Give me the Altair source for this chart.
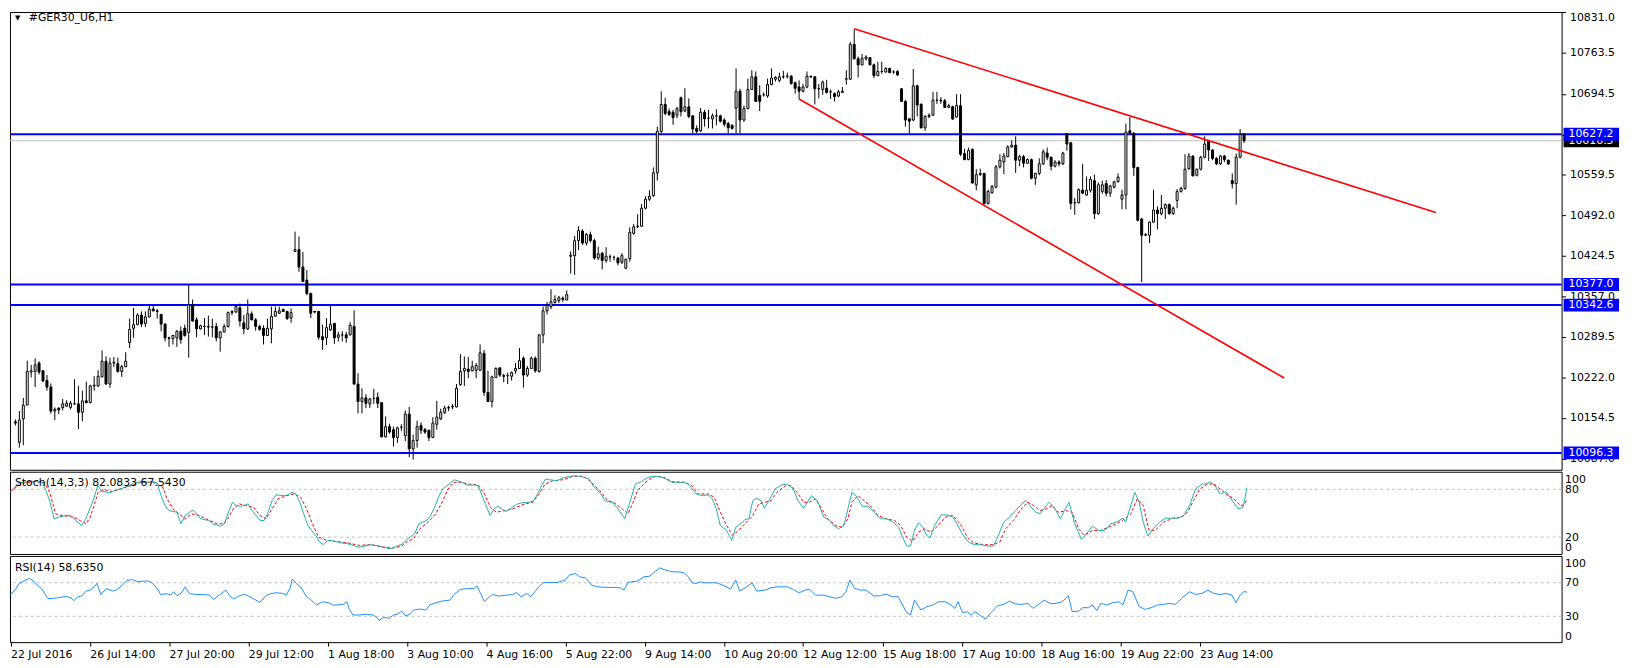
import json
import altair as alt
import pandas as pd

# ---------------- data ----------------
symbol_title = "#GER30_U6,H1"
stoch_title = "Stoch(14,3,3) 82.0833 67.5430"
rsi_title = "RSI(14) 58.6350"

time_labels = ["22 Jul 2016", "26 Jul 14:00", "27 Jul 20:00", "29 Jul 12:00",
               "1 Aug 18:00", "3 Aug 10:00", "4 Aug 16:00", "5 Aug 22:00",
               "9 Aug 14:00", "10 Aug 20:00", "12 Aug 12:00", "15 Aug 18:00",
               "17 Aug 10:00", "18 Aug 16:00", "19 Aug 22:00", "23 Aug 14:00"]
time_label_bars = list(range(0, 301, 20))

price_ticks = [10831.0, 10763.5, 10694.5, 10627.0, 10559.5, 10492.0,
               10424.5, 10357.0, 10289.5, 10222.0, 10154.5, 10087.0]

h_levels = [10627.2, 10377.0, 10342.6, 10096.3]
bid_price = 10616.5

trend_start_bar = [213, 199]
trend_end_bar = [360.7, 322.2]
trend_start_price = [10803.0, 10686.0]
trend_end_price = [10497.0, 10221.0]

stoch_levels = [20, 80]
rsi_levels = [30, 70]

opens = [
    10148, 10114, 10153, 10176, 10231, 10232, 10246, 10233, 10217, 10206,
    10166, 10171, 10172, 10174, 10172, 10178, 10178, 10164, 10183, 10180,
    10208, 10208, 10223, 10249, 10211, 10246, 10245, 10232, 10240, 10280,
    10304, 10310, 10326, 10312, 10323, 10336, 10333, 10327, 10311, 10288,
    10287, 10288, 10299, 10304, 10297, 10343, 10318, 10303, 10307, 10307,
    10306, 10307, 10288, 10298, 10307, 10330, 10331, 10338, 10313, 10303,
    10328, 10318, 10307, 10304, 10292, 10303, 10324, 10329, 10335, 10332,
    10321, 10432, 10435, 10406, 10384, 10362, 10332, 10332, 10290, 10288,
    10301, 10312, 10289, 10293, 10293, 10293, 10307, 10211, 10182, 10188,
    10178, 10187, 10189, 10180, 10123, 10140, 10135, 10122, 10139, 10125,
    10161, 10103, 10117, 10142, 10135, 10134, 10122, 10144, 10153, 10164,
    10171, 10173, 10173, 10210, 10233, 10236, 10233, 10234, 10234, 10262,
    10197, 10182, 10222, 10238, 10225, 10225, 10224, 10233, 10237, 10254,
    10226, 10237, 10254, 10232, 10293, 10333, 10340, 10347, 10350, 10354,
    10351, 10424, 10425, 10450, 10466, 10446, 10460, 10450, 10421, 10429,
    10417, 10423, 10422, 10421, 10414, 10404, 10420, 10462, 10473, 10474,
    10504, 10519, 10525, 10563, 10632, 10677, 10665, 10664, 10659, 10688,
    10666, 10673, 10658, 10637, 10633, 10664, 10654, 10653, 10658, 10658,
    10651, 10645, 10642, 10671, 10699, 10651, 10670, 10702, 10723, 10692,
    10693, 10691, 10710, 10719, 10717, 10723, 10724, 10724, 10713, 10706,
    10699, 10706, 10724, 10723, 10703, 10702, 10704, 10698, 10695, 10691,
    10697, 10719, 10719, 10777, 10753, 10743, 10753, 10755, 10743, 10725,
    10732, 10731, 10737, 10731, 10732, 10703, 10682, 10653, 10651, 10708,
    10677, 10638, 10657, 10659, 10684, 10683, 10683, 10672, 10673, 10656,
    10675, 10595, 10585, 10602, 10543, 10560, 10562, 10512, 10530, 10539,
    10573, 10581, 10590, 10606, 10609, 10584, 10590, 10579, 10585, 10554,
    10562, 10578, 10596, 10589, 10574, 10581, 10578, 10628, 10613, 10513,
    10513, 10534, 10526, 10534, 10550, 10495, 10532, 10545, 10529, 10539,
    10548, 10519, 10526, 10633, 10629, 10572, 10486, 10460, 10459, 10481,
    10501, 10495, 10504, 10510, 10495, 10517, 10532, 10537, 10570, 10591,
    10559, 10569, 10589, 10616, 10601, 10587, 10578, 10591, 10584, 10550,
    10545, 10589, 10627]

highs = [
    10152, 10166, 10188, 10250, 10243, 10254, 10249, 10234, 10226, 10212,
    10172, 10172, 10186, 10184, 10183, 10219, 10208, 10200, 10215, 10210,
    10224, 10234, 10267, 10257, 10255, 10256, 10255, 10243, 10264, 10320,
    10338, 10329, 10332, 10332, 10342, 10342, 10336, 10328, 10312, 10290,
    10293, 10301, 10307, 10310, 10377, 10352, 10322, 10310, 10321, 10325,
    10320, 10313, 10299, 10311, 10332, 10334, 10343, 10345, 10326, 10352,
    10332, 10321, 10310, 10309, 10320, 10340, 10340, 10340, 10337, 10333,
    10337, 10465, 10457, 10431, 10401, 10363, 10333, 10333, 10310, 10321,
    10343, 10313, 10298, 10299, 10298, 10314, 10334, 10229, 10204, 10194,
    10188, 10203, 10197, 10181, 10157, 10145, 10140, 10140, 10144, 10167,
    10173, 10127, 10150, 10147, 10138, 10135, 10156, 10183, 10170, 10175,
    10175, 10178, 10211, 10261, 10257, 10256, 10250, 10246, 10277, 10268,
    10233, 10225, 10239, 10239, 10228, 10230, 10232, 10246, 10271, 10257,
    10241, 10257, 10257, 10294, 10340, 10348, 10369, 10359, 10358, 10357,
    10367, 10432, 10458, 10474, 10469, 10463, 10465, 10453, 10440, 10431,
    10439, 10427, 10425, 10423, 10429, 10420, 10472, 10478, 10494, 10511,
    10524, 10534, 10572, 10640, 10699, 10688, 10670, 10668, 10673, 10690,
    10704, 10687, 10659, 10642, 10671, 10668, 10668, 10662, 10669, 10660,
    10654, 10648, 10644, 10737, 10703, 10675, 10720, 10734, 10732, 10709,
    10697, 10720, 10737, 10724, 10730, 10733, 10730, 10726, 10715, 10717,
    10711, 10732, 10725, 10724, 10711, 10717, 10718, 10702, 10697, 10701,
    10706, 10734, 10781, 10802, 10757, 10761, 10759, 10756, 10745, 10748,
    10748, 10739, 10738, 10734, 10734, 10704, 10684, 10654, 10736, 10710,
    10679, 10659, 10662, 10698, 10698, 10689, 10686, 10678, 10675, 10694,
    10694, 10603, 10605, 10604, 10569, 10570, 10563, 10535, 10543, 10576,
    10594, 10596, 10609, 10617, 10624, 10593, 10593, 10587, 10587, 10563,
    10587, 10602, 10605, 10590, 10584, 10584, 10598, 10629, 10614, 10521,
    10537, 10578, 10557, 10557, 10560, 10547, 10550, 10551, 10543, 10550,
    10562, 10535, 10645, 10656, 10631, 10573, 10488, 10463, 10482, 10535,
    10507, 10526, 10512, 10512, 10507, 10536, 10540, 10594, 10596, 10592,
    10570, 10591, 10624, 10618, 10602, 10589, 10593, 10593, 10585, 10562,
    10595, 10636, 10629]

lows = [
    10142, 10105, 10109, 10176, 10222, 10206, 10227, 10215, 10200, 10162,
    10151, 10161, 10167, 10173, 10169, 10176, 10136, 10149, 10179, 10179,
    10200, 10206, 10222, 10210, 10205, 10239, 10230, 10223, 10239, 10271,
    10288, 10309, 10306, 10306, 10322, 10332, 10320, 10299, 10282, 10273,
    10277, 10273, 10278, 10290, 10255, 10315, 10289, 10302, 10293, 10290,
    10289, 10282, 10265, 10297, 10305, 10326, 10330, 10307, 10294, 10301,
    10317, 10300, 10300, 10277, 10291, 10279, 10323, 10328, 10331, 10318,
    10313, 10431, 10398, 10381, 10359, 10321, 10329, 10285, 10268, 10276,
    10300, 10278, 10282, 10282, 10280, 10292, 10210, 10162, 10162, 10171,
    10171, 10178, 10171, 10122, 10122, 10128, 10107, 10113, 10133, 10116,
    10089, 10085, 10105, 10128, 10128, 10116, 10121, 10135, 10151, 10161,
    10166, 10169, 10172, 10208, 10208, 10221, 10232, 10221, 10233, 10191,
    10181, 10172, 10221, 10223, 10214, 10211, 10217, 10228, 10236, 10205,
    10223, 10236, 10230, 10230, 10279, 10327, 10336, 10345, 10346, 10348,
    10351, 10395, 10393, 10434, 10443, 10442, 10447, 10418, 10418, 10402,
    10413, 10415, 10417, 10409, 10411, 10403, 10415, 10460, 10471, 10473,
    10502, 10516, 10523, 10550, 10629, 10659, 10658, 10643, 10654, 10657,
    10664, 10654, 10629, 10629, 10631, 10640, 10637, 10637, 10642, 10647,
    10640, 10629, 10635, 10629, 10629, 10648, 10669, 10701, 10681, 10666,
    10690, 10688, 10709, 10715, 10714, 10720, 10720, 10710, 10695, 10686,
    10697, 10704, 10721, 10677, 10687, 10693, 10695, 10686, 10682, 10689,
    10696, 10710, 10718, 10752, 10722, 10742, 10750, 10742, 10721, 10724,
    10728, 10730, 10729, 10728, 10724, 10681, 10640, 10629, 10649, 10657,
    10637, 10633, 10654, 10658, 10678, 10678, 10671, 10671, 10651, 10655,
    10591, 10584, 10584, 10545, 10534, 10558, 10510, 10510, 10528, 10537,
    10570, 10561, 10589, 10605, 10563, 10574, 10572, 10578, 10552, 10543,
    10559, 10576, 10584, 10567, 10572, 10574, 10576, 10600, 10502, 10493,
    10512, 10528, 10524, 10530, 10486, 10493, 10528, 10524, 10523, 10537,
    10547, 10502, 10502, 10627, 10558, 10482, 10381, 10458, 10446, 10479,
    10469, 10492, 10486, 10493, 10493, 10504, 10530, 10535, 10568, 10557,
    10557, 10567, 10587, 10583, 10584, 10576, 10576, 10581, 10576, 10537,
    10510, 10587, 10613]

closes = [
    10146, 10151, 10176, 10232, 10233, 10243, 10231, 10216, 10206, 10166,
    10169, 10168, 10178, 10179, 10179, 10178, 10164, 10183, 10180, 10208,
    10209, 10224, 10249, 10211, 10246, 10247, 10232, 10240, 10249, 10302,
    10310, 10326, 10311, 10323, 10336, 10333, 10332, 10311, 10288, 10287,
    10292, 10299, 10285, 10292, 10343, 10316, 10303, 10308, 10307, 10306,
    10306, 10288, 10298, 10307, 10330, 10332, 10340, 10316, 10303, 10328,
    10318, 10307, 10302, 10292, 10304, 10324, 10332, 10333, 10332, 10320,
    10330, 10435, 10406, 10382, 10362, 10329, 10331, 10289, 10285, 10305,
    10310, 10288, 10293, 10293, 10288, 10309, 10211, 10182, 10188, 10179,
    10186, 10187, 10179, 10123, 10140, 10131, 10122, 10138, 10139, 10161,
    10103, 10117, 10140, 10134, 10131, 10122, 10146, 10156, 10164, 10171,
    10172, 10174, 10204, 10232, 10237, 10232, 10240, 10242, 10263, 10197,
    10182, 10223, 10237, 10226, 10224, 10225, 10230, 10237, 10250, 10226,
    10237, 10254, 10233, 10293, 10333, 10342, 10348, 10352, 10355, 10352,
    10360, 10426, 10450, 10467, 10446, 10460, 10450, 10421, 10428, 10417,
    10424, 10423, 10422, 10413, 10425, 10419, 10464, 10473, 10474, 10504,
    10519, 10524, 10563, 10632, 10677, 10662, 10660, 10655, 10670, 10665,
    10673, 10657, 10636, 10632, 10664, 10653, 10654, 10658, 10658, 10649,
    10644, 10638, 10637, 10699, 10651, 10670, 10702, 10723, 10682, 10682,
    10693, 10710, 10721, 10722, 10723, 10723, 10724, 10712, 10704, 10699,
    10706, 10724, 10723, 10703, 10703, 10714, 10697, 10698, 10690, 10698,
    10699, 10720, 10777, 10753, 10743, 10754, 10756, 10743, 10725, 10732,
    10732, 10737, 10730, 10731, 10726, 10682, 10651, 10649, 10708, 10676,
    10638, 10657, 10659, 10684, 10684, 10684, 10672, 10675, 10653, 10675,
    10594, 10585, 10600, 10546, 10560, 10562, 10512, 10532, 10540, 10573,
    10584, 10591, 10606, 10609, 10584, 10590, 10579, 10585, 10554, 10562,
    10578, 10598, 10589, 10574, 10581, 10578, 10596, 10611, 10512, 10513,
    10535, 10529, 10534, 10552, 10495, 10543, 10543, 10529, 10541, 10548,
    10556, 10526, 10631, 10629, 10572, 10484, 10459, 10459, 10481, 10501,
    10495, 10504, 10510, 10495, 10504, 10532, 10537, 10569, 10591, 10558,
    10569, 10589, 10611, 10601, 10587, 10578, 10591, 10585, 10578, 10545,
    10589, 10627, 10616.5]

# (bar, value) readings of the indicator lines
stoch_main_points = [
    (0, 77), (1, 82.5), (2, 88), (4, 89.6), (6, 90), (8, 88.8), (9, 78), (10, 63.7),
    (11, 43), (12, 45), (14, 47), (15, 47), (16, 43), (17, 38.7), (18, 34.6), (19, 43),
    (20, 55.4), (21, 68), (22, 84.6), (23, 78), (25, 75.4), (26, 78), (28, 81), (30, 84.6),
    (31, 88), (33, 89.6), (34, 88.8), (36, 89.6), (37, 88), (38, 72), (39, 59.6), (40, 53.3),
    (42, 51.2), (43, 36.7), (44, 47), (46, 54), (47, 49), (48, 43), (50, 40.8), (51, 36.7),
    (53, 33.7), (54, 36.7), (55, 51.2), (56, 63.7), (57, 59.6), (58, 58.8), (59, 59.6),
    (60, 61.7), (61, 53.3), (63, 40.8), (64, 40.8), (65, 51.2), (66, 65.8), (67, 73),
    (69, 72), (70, 73), (71, 76.2), (72, 74.2), (73, 63.7), (74, 49.2), (75, 34.6),
    (77, 22), (78, 13.7), (79, 10.4), (80, 15.8), (81, 15.8), (83, 13), (85, 11.7),
    (86, 10.4), (88, 7), (90, 9.6), (91, 10.4), (93, 8.7), (94, 7), (96, 5.4), (97, 7.5),
    (99, 11.7), (100, 17), (102, 24.2), (103, 36.7), (105, 40.8), (106, 47), (107, 57.5),
    (108, 70), (109, 80.4), (111, 88), (112, 92), (114, 88.8), (115, 85.4), (117, 85.4),
    (118, 84.6), (119, 72), (120, 59.6), (121, 47), (122, 55.4), (123, 58.8), (125, 52),
    (126, 55.4), (128, 61.7), (129, 63), (131, 63.7), (132, 65.8), (133, 74.2), (134, 84.6),
    (135, 93), (136, 92), (138, 90.8), (139, 93.8), (141, 96.3), (142, 97), (144, 96.3),
    (146, 93), (147, 84.6), (149, 74.2), (150, 65.8), (152, 63), (153, 57.5), (155, 43),
    (156, 59.6), (157.7, 86.7), (159.2, 89.6), (160.8, 95), (162.3, 96.3), (163.8, 96.3),
    (165.4, 93), (166.9, 88.8), (168.4, 88.8), (170, 88.8), (171, 86.7), (172, 80.4),
    (173, 74.2), (174.6, 72), (176.1, 73), (177.1, 68), (178.1, 55.4), (179.1, 34.6),
    (180.7, 28.3), (182, 15.8), (183, 32.5), (184.3, 36.7), (185.3, 42), (186.3, 42.9),
    (187.3, 65.8), (188.3, 68.8), (189.4, 65.8), (190.2, 56.2), (191.4, 65.8), (192.9, 80.4),
    (194.5, 85.4), (196, 86.7), (197.5, 80.4), (198.7, 65.8), (200.1, 56.2), (201.1, 63.7),
    (202.1, 72), (203.6, 65.8), (205.2, 45), (206.7, 40.8), (207.7, 34.6), (208.9, 30.4),
    (210.3, 34.6), (211.3, 55.4), (212.3, 76.2), (213.3, 72), (214.9, 58.8), (216.4, 58.8),
    (217.9, 51.2), (219.5, 42.9), (221, 42.9), (222.5, 39.6), (224.1, 32.5), (225.1, 20),
    (226.1, 8.7), (227.1, 8.7), (228.1, 28.3), (229.1, 38), (230.2, 32.5), (231.2, 22),
    (232, 18.7), (233.2, 34.6), (234.8, 47.9), (236.3, 47.9), (237.8, 45), (238.8, 36.7),
    (240.4, 22), (241.9, 13), (243.4, 10.4), (245, 10.4), (246.5, 8.7), (248, 8.7),
    (249.1, 20), (250.6, 38.7), (252.1, 45), (253.6, 53.3), (255.2, 61.7), (256.2, 65.8),
    (257.2, 59.6), (258.7, 51.2), (259.8, 49.2), (260.8, 56.2), (262, 63.7), (263.3, 57.5),
    (264.9, 43), (265.9, 53.3), (267.1, 63.7), (268.4, 38.7), (270.2, 17), (271.5, 24.2),
    (273, 33.7), (274.6, 28.3), (276.1, 28.3), (277.6, 36.7), (279.1, 38.7), (280.7, 43.7),
    (281.4, 38.7), (282.4, 55.4), (283.7, 76.2), (284.8, 63.7), (285.8, 38.7), (287, 21.2),
    (288.3, 30.4), (289.9, 38.7), (291.4, 43.7), (292.9, 43.7), (294.5, 43.7), (296, 47),
    (297.5, 59.6), (299, 80.4), (300.6, 86.7), (301.6, 86.7), (302.8, 89.6), (304.2, 82.5),
    (305.2, 74.2), (306.7, 77), (308.3, 65.8), (309.8, 55.4), (311, 57.5), (312, 82.1)]

stoch_signal_points = [
    (0, 77.1), (1.5, 83), (3.5, 88), (6, 89.6), (8.5, 88.5), (9.9, 76.2), (11.4, 49.2),
    (13, 47), (14.5, 46.2), (16, 45), (17.5, 40.8), (19.1, 36.7), (20.1, 45), (21.1, 59.6),
    (22.1, 76.2), (23.7, 79.6), (25.7, 77.1), (27.7, 80.4), (29.8, 83.7), (32.8, 88.8),
    (35.9, 88.8), (38.5, 82.5), (39.5, 67.9), (41, 55.4), (42.5, 49.2), (44.1, 42.9),
    (45.6, 49.2), (47.6, 47.1), (50.2, 40.8), (52.2, 36.7), (53.8, 36.7), (54.8, 42.9),
    (56.3, 56.2), (57.8, 61.7), (59.9, 58.7), (61.4, 57.5), (62.9, 47.1), (64.5, 42.9),
    (66, 55.4), (67.5, 67.9), (69.6, 72.1), (71.6, 74.2), (73.2, 70), (74.7, 55.4),
    (76.2, 36.7), (77.7, 20), (79.8, 15.8), (81.8, 14.6), (84.9, 12.9), (87.9, 9.6),
    (91, 10.4), (94.1, 7.5), (96.6, 6.2), (98.7, 8.7), (100.2, 14.6), (101.7, 17.9),
    (103.3, 30.4), (105.3, 38.7), (107.3, 49.2), (108.9, 63.7), (110.4, 80.4), (111.9, 88.8),
    (113.5, 88.8), (115.5, 86.7), (118, 85.4), (119.6, 74.2), (121.1, 57.5), (122.6, 51.2),
    (124.7, 53.3), (126.7, 55.4), (129.8, 61.7), (131.8, 63.7), (133.4, 74.2), (134.9, 86.7),
    (136.9, 90.8), (139.5, 92.1), (142, 96.3), (144.6, 96.3), (146.6, 88.8), (148.7, 78.3),
    (150.7, 65.8), (152.2, 63.7), (154.3, 55.4), (155.8, 49.2), (157.3, 65.8), (158.2, 78.3),
    (159.8, 86.7), (161.3, 92.9), (162.8, 96.3), (164.9, 95), (166.9, 89.6), (170, 88.8),
    (172, 84.6), (173.5, 74.2), (176.1, 74.2), (177.6, 70), (179.1, 51.2), (180.7, 34.6),
    (182.2, 22.1), (183.7, 28.3), (185.3, 36.7), (187.3, 47.1), (188.8, 61.7), (190.4, 63.7),
    (191.9, 65.8), (193.4, 76.2), (195.5, 84.6), (197, 84.6), (198.5, 76.2), (200.1, 63.7),
    (201.6, 63.7), (203.1, 67.9), (204.7, 55.4), (206.2, 42.9), (208.2, 34.6), (209.8, 32.5),
    (211.3, 42.9), (212.3, 63.7), (213.8, 72.1), (215.4, 65.8), (216.9, 59.6), (218.9, 47.1),
    (221, 42.9), (223, 40.8), (224.6, 34.6), (226.1, 20), (227.6, 14.6), (229.1, 26.2),
    (230.7, 30.4), (232.2, 26.2), (233.7, 32.5), (235.8, 45), (237.8, 47.1), (239.9, 34.6),
    (241.4, 20), (242.9, 12.9), (245.5, 10.4), (248, 10.4), (249.6, 13.7), (251.1, 30.4),
    (253.1, 40.8), (254.7, 53.3), (256.7, 63.7), (258.2, 59.6), (259.8, 53.3), (261.3, 55.4),
    (262.8, 59.6), (264.4, 51.2), (266.4, 53.3), (267.9, 51.2), (269.5, 30.4), (271, 22.1),
    (273, 28.3), (275.1, 28.3), (277.1, 32.5), (279.1, 36.7), (281.2, 42.9), (282.7, 49.2),
    (284.3, 67.9), (285.8, 59.6), (287.3, 28.3), (288.8, 28.3), (290.9, 38.7), (293.4, 43.7),
    (295.5, 45), (297, 51.2), (298.5, 65.8), (300.1, 80.4), (302.1, 86.7), (303.6, 86.7),
    (305.2, 80.4), (306.7, 74.2), (308.7, 67.9), (310.3, 59.6), (311.3, 60.4), (312, 67.5)]

rsi_points = [
    (0, 56.1), (1.2, 61.3), (2.2, 69.2), (3.8, 73.2), (4.8, 75.1), (5.8, 72), (6.8, 67.2),
    (7.8, 63.3), (9.4, 51.4), (10.9, 51.4), (11.9, 52.2), (13.5, 53.4), (14.5, 53.4),
    (15.5, 51.4), (16, 48.6), (17, 53.4), (18, 54.2), (19.1, 60.1), (20.1, 61.3), (21.1, 65.2),
    (21.8, 69.2), (22.8, 56.1), (24.2, 63.3), (25.7, 60.1), (26.7, 61.3), (28.2, 67.2),
    (29.3, 72.4), (30.8, 74), (32, 71.2), (33.4, 72), (34.9, 72), (35.9, 69.2), (36.9, 64.1),
    (37.9, 56.1), (39.5, 56.9), (40.5, 55.3), (41.2, 59.3), (42, 54.6), (43, 57.3), (44.1, 65.2),
    (45.1, 57.3), (46.6, 56.1), (48.2, 56.1), (50.2, 55.3), (51.2, 50.2), (52.7, 55.3),
    (54.3, 61.3), (55.3, 54.6), (56.3, 50.6), (57.3, 53.4), (58.9, 56.5), (60.4, 53.4),
    (61.9, 49.4), (62.9, 46.6), (64.5, 54.6), (65.5, 56.9), (67, 58.1), (68.6, 57.3),
    (69.6, 55.3), (70.6, 64.1), (71.1, 74.4), (72.1, 69.2), (73.2, 65.2), (74.7, 53.4),
    (75.7, 50.2), (77.2, 43.5), (78.8, 47.4), (80.3, 46.2), (81.3, 43.5), (82.3, 43.5),
    (83.9, 44.3), (84.9, 47.4), (85.4, 39.5), (86.4, 31.6), (87.9, 31.6), (90, 32.4),
    (91.5, 31.6), (92.5, 28.4), (93, 24.9), (94.1, 28.8), (95.6, 27.6), (96.6, 31.6),
    (97.6, 32.4), (98.7, 36.3), (99.7, 30.4), (100.7, 32.4), (101.7, 37.5), (103.3, 38.7),
    (104.8, 37.5), (105.8, 43.5), (107.3, 46.2), (108.9, 48.2), (110.9, 49.4), (111.9, 56.1),
    (113.5, 62.1), (115.5, 63.3), (117, 63.3), (117.7, 66.4), (118.6, 57.3), (119.6, 47.4),
    (120.6, 52.2), (121.6, 56.1), (123.2, 54.2), (125.2, 55.3), (126.7, 56.1), (127.7, 58.5),
    (128.8, 53.4), (130.3, 57.3), (131.3, 53.4), (132.3, 59.3), (133.3, 65.2), (134.4, 70),
    (135.9, 70.4), (137.9, 70.4), (140, 73.2), (141, 79.1), (142.5, 81.1), (143.6, 77.1),
    (145.1, 75.9), (146.6, 67.2), (148.1, 65.2), (150.2, 64.5), (152.2, 64.5), (153.8, 64.1),
    (154.8, 61.3), (155.8, 70.4), (156.7, 71.2), (158.2, 72), (159.8, 77.1), (161.3, 77.9),
    (162.8, 83.9), (163.8, 87.8), (165.4, 85), (166.9, 83.1), (168.4, 83.1), (170, 81.9),
    (171, 77.1), (172, 70), (173, 69.2), (174, 71.2), (175.1, 70), (176.6, 70), (178.1, 70),
    (179.7, 67.2), (181.7, 62.5), (183, 73.2), (184, 60.1), (185.8, 65.2), (187.1, 70),
    (188.3, 60.1), (190.4, 61.3), (191.9, 64.1), (193.4, 65.2), (196, 65.2), (197.5, 62.1),
    (199, 58.1), (200.6, 61.3), (201.6, 62.5), (203.1, 55.3), (205.2, 55.3), (206.7, 53.4),
    (208.2, 51.4), (209.8, 53.4), (210.8, 59.3), (211.8, 73.2), (213, 63.3), (214.4, 61.3),
    (215.9, 61.3), (217.9, 54.2), (219.5, 54.6), (221, 56.5), (222.5, 53.4), (224, 53.4),
    (225.1, 43.5), (226.1, 34.8), (227.1, 31.6), (228.1, 49.4), (229.7, 37.5), (231.2, 41.5),
    (232.7, 43.5), (234.2, 47.4), (235.8, 47.4), (237.3, 43.5), (238.3, 39.5), (239.1, 47.4),
    (240.2, 34.4), (241.4, 35.5), (242.4, 31.6), (243.4, 35.5), (244.5, 31.6), (246, 26.8),
    (247.5, 34.8), (249.1, 42.7), (250.6, 44.3), (252.1, 48.2), (253.6, 44.7), (255.2, 44.3),
    (256.7, 45.4), (258, 39.5), (259.2, 43.5), (260.8, 49.4), (262.3, 45.4), (263.8, 45.4),
    (265.4, 47.4), (266.9, 54.6), (267.9, 35.5), (269.5, 36.3), (270.5, 40.3), (272, 40.3),
    (273, 43.5), (274.1, 36.7), (275.1, 45.4), (276.6, 43.5), (278.1, 46.2), (279.7, 47.4),
    (280.7, 43.5), (282, 61.3), (283.2, 59.3), (284.8, 41.5), (286.3, 38.3), (287.8, 40.3),
    (289.4, 43.5), (290.9, 44.3), (292.4, 45.4), (293.9, 44.3), (295.5, 51.4), (297.5, 59.3),
    (299, 56.1), (300.6, 57.3), (302.1, 61.3), (303.6, 57.3), (305.2, 56.1), (306.7, 57.3),
    (308.2, 55.3), (309.2, 46.2), (310.3, 55.3), (311.3, 60.1), (312, 58.6)]

# ---------------- tables ----------------
candles = pd.DataFrame({"bar": list(range(len(opens))), "open": opens, "high": highs,
                        "low": lows, "close": closes})
candles["dir"] = ["up" if c >= o else "down" for o, c in zip(opens, closes)]

levels_df = pd.DataFrame({"price": h_levels, "label": [f"{p:.1f}" for p in h_levels]})
bid_df = pd.DataFrame({"price": [bid_price], "label": [f"{bid_price:.1f}"]})
trend_df = pd.DataFrame({"bar": trend_start_bar, "bar2": trend_end_bar,
                         "price": trend_start_price, "price2": trend_end_price})
k_df = pd.DataFrame(stoch_main_points, columns=["bar", "v"])
d_df = pd.DataFrame(stoch_signal_points, columns=["bar", "v"])
rsi_df = pd.DataFrame(rsi_points, columns=["bar", "v"])

# ---------------- layout / style ----------------
FONT = "DejaVu Sans"
W = 1566
H_MAIN, H_STO, H_RSI = 462, 83, 87
x_scale = alt.Scale(domain=[-0.125, 391.375], nice=False, zero=False)
y_scale = alt.Scale(domain=[10068.2, 10831.0], nice=False, zero=False)
sto_scale = alt.Scale(domain=[-1.25, 102.1], nice=False, zero=False)
rsi_scale = alt.Scale(domain=[-0.8, 102.0], nice=False, zero=False)

price_axis = alt.Axis(orient="right", values=price_ticks, format=".1f", title=None,
                      domain=False, grid=False, ticks=True, tickSize=4, tickColor="black",
                      labelColor="black", labelFont=FONT, labelFontSize=11, labelPadding=4,
                      labelFlush=1, labelOverlap=False)


def ind_axis(vals):
    return alt.Axis(orient="right", values=vals, title=None, domain=False, grid=False,
                    ticks=False, labelColor="black", labelFont=FONT, labelFontSize=11,
                    labelPadding=3, labelFlush=3, labelOverlap=False)


sto_axis = ind_axis([0, 20, 80, 100])
rsi_axis = ind_axis([0, 30, 70, 100])

label_expr = json.dumps(time_labels) + "[round(datum.value / 20)]"
time_axis = alt.Axis(orient="bottom", values=time_label_bars, labelExpr=label_expr,
                     title=None, domain=False, grid=False, ticks=True, tickSize=4,
                     tickColor="black", labelColor="black", labelFont=FONT,
                     labelFontSize=11, labelAlign="left", labelBaseline="top",
                     labelPadding=2, labelFlush=False, labelOverlap=False)


def X(field, axis=None):
    return alt.X(f"{field}:Q", scale=x_scale, axis=axis)


def YP(field):
    return alt.Y(f"{field}:Q", scale=y_scale, axis=price_axis)


# ---------------- main price panel ----------------
bid_line = alt.Chart(bid_df).mark_rule(color="#C0C0C0", strokeWidth=1).encode(y=YP("price"))
blue_lines = alt.Chart(levels_df).mark_rule(color="#0000FF", strokeWidth=2).encode(y=YP("price"))
wicks = alt.Chart(candles).mark_rule(color="black", strokeWidth=1).encode(
    x=X("bar"), y=YP("low"), y2=alt.Y2("high"))
bodies = alt.Chart(candles).mark_bar(width=2, stroke="black", strokeWidth=1).encode(
    x=X("bar"), y=YP("open"), y2=alt.Y2("close"),
    fill=alt.Fill("dir:N", scale=alt.Scale(domain=["up", "down"], range=["white", "black"]),
                  legend=None))
trends = alt.Chart(trend_df).mark_rule(color="#FF0000", strokeWidth=1.6).encode(
    x=X("bar"), x2=alt.X2("bar2"), y=YP("price"), y2=alt.Y2("price2"))

bid_box = alt.Chart(bid_df).mark_rule(color="black", strokeWidth=13, strokeCap="butt").encode(
    x=alt.value(W + 2), x2=alt.value(W + 58), y=YP("price"))
bid_text = alt.Chart(bid_df).mark_text(align="left", baseline="middle", font=FONT,
                                       fontSize=11, color="white").encode(
    x=alt.value(W + 7), y=YP("price"), text="label:N")
lvl_box = alt.Chart(levels_df).mark_rule(color="#0000FF", strokeWidth=13, strokeCap="butt").encode(
    x=alt.value(W + 2), x2=alt.value(W + 58), y=YP("price"))
lvl_text = alt.Chart(levels_df).mark_text(align="left", baseline="middle", font=FONT,
                                          fontSize=11, color="white").encode(
    x=alt.value(W + 7), y=YP("price"), text="label:N")

title_main = alt.Chart(pd.DataFrame({"t": [symbol_title]})).mark_text(
    align="left", baseline="middle", font=FONT, fontSize=11, color="black").encode(
    x=alt.value(19), y=alt.value(6), text="t:N")
title_tri = alt.Chart(pd.DataFrame({"t": ["\u25BC"]})).mark_text(
    align="left", baseline="middle", font=FONT, fontSize=7, color="black").encode(
    x=alt.value(5), y=alt.value(6), text="t:N")

main = alt.layer(bid_line, blue_lines, wicks, bodies, trends, bid_box, bid_text,
                 lvl_box, lvl_text, title_main, title_tri).properties(width=W, height=H_MAIN)

# ---------------- stochastic panel ----------------
sto_lv = alt.Chart(pd.DataFrame({"lvl": stoch_levels})).mark_rule(
    color="#C0C0C0", strokeDash=[3, 3], strokeWidth=1).encode(
    y=alt.Y("lvl:Q", scale=sto_scale, axis=sto_axis))
k_line = alt.Chart(k_df).mark_line(color="#20B2AA", strokeWidth=1).encode(
    x=X("bar"), y=alt.Y("v:Q", scale=sto_scale, axis=sto_axis))
d_line = alt.Chart(d_df).mark_line(color="#FF0000", strokeWidth=1, strokeDash=[3, 2]).encode(
    x=X("bar"), y=alt.Y("v:Q", scale=sto_scale, axis=sto_axis))
sto_txt = alt.Chart(pd.DataFrame({"t": [stoch_title]})).mark_text(
    align="left", baseline="middle", font=FONT, fontSize=11, color="black").encode(
    x=alt.value(5), y=alt.value(11), text="t:N")
sto = alt.layer(sto_lv, d_line, k_line, sto_txt).properties(width=W, height=H_STO)

# ---------------- RSI panel ----------------
rsi_lv = alt.Chart(pd.DataFrame({"lvl": rsi_levels})).mark_rule(
    color="#C0C0C0", strokeDash=[3, 3], strokeWidth=1).encode(
    y=alt.Y("lvl:Q", scale=rsi_scale, axis=rsi_axis))
rsi_line = alt.Chart(rsi_df).mark_line(color="#1E90FF", strokeWidth=1).encode(
    x=X("bar", time_axis), y=alt.Y("v:Q", scale=rsi_scale, axis=rsi_axis))
rsi_txt = alt.Chart(pd.DataFrame({"t": [rsi_title]})).mark_text(
    align="left", baseline="middle", font=FONT, fontSize=11, color="black").encode(
    x=alt.value(5), y=alt.value(12), text="t:N")
rsi = alt.layer(rsi_lv, rsi_line, rsi_txt).properties(width=W, height=H_RSI)

chart = alt.vconcat(main, sto, rsi, spacing=2, bounds="flush", padding=0).configure(
    background="white", font=FONT).configure_view(stroke="black", strokeWidth=1)

chart.save("out.html", embed_options={"renderer": "svg", "actions": False})
